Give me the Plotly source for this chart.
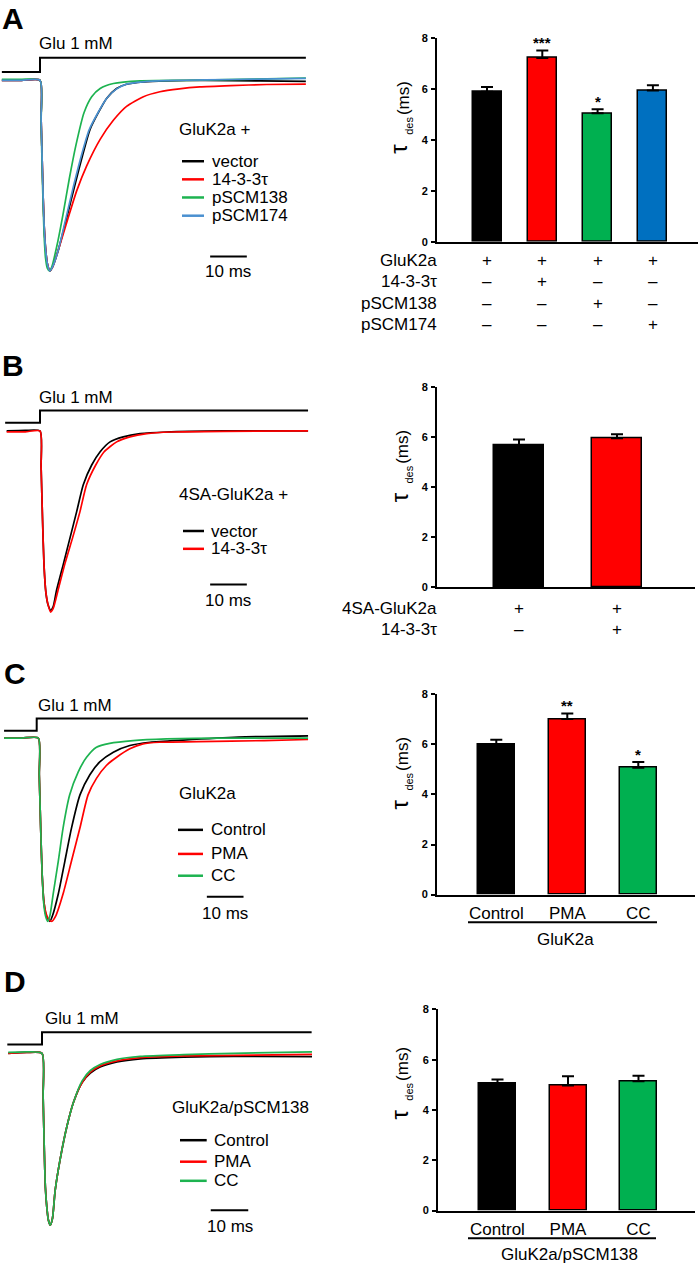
import plotly.graph_objects as go

W, H = 700, 1272
FONT = "Liberation Sans, Arial, sans-serif"

# ---------------- DATA ----------------
# Current traces: time in ms from glutamate application, current normalised to peak (-1)
A_vector_t = [-10.4, -5, 0, 0.3, 0.7, 1.1, 1.6, 2.1, 2.7, 3.4, 5.0, 7.3, 9.5, 11.8, 13.6, 15.9, 18.2, 20.9, 23.6, 28.2, 34.5, 45, 60, 72.5]
A_vector_i = [0, 0, 0, -0.2, -0.5, -0.75, -0.9, -0.97, -1.0, -0.98, -0.89, -0.72, -0.55, -0.38, -0.26, -0.17, -0.094, -0.043, -0.021, -0.009, -0.003, 0, -0.003, -0.006]
A_1433_t = [-10.4, -5, 0, 0.3, 0.7, 1.1, 1.6, 2.1, 2.7, 3.4, 5.0, 7.7, 10.0, 12.7, 16.4, 20.0, 23.6, 28.2, 32.7, 38, 43.6, 52, 61.8, 72.5]
A_1433_i = [0, 0, 0, -0.2, -0.5, -0.75, -0.9, -0.97, -1.0, -0.98, -0.89, -0.72, -0.58, -0.45, -0.31, -0.21, -0.137, -0.086, -0.06, -0.045, -0.035, -0.028, -0.022, -0.02]
A_p138_t = [-10.4, -5, 0, 0.3, 0.7, 1.1, 1.5, 2.0, 2.6, 3.2, 4.7, 6.4, 8.0, 9.8, 12.0, 14.1, 16.4, 20.0, 27.3, 40, 55, 72.5]
A_p138_i = [0.005, 0.005, 0, -0.22, -0.55, -0.8, -0.93, -0.985, -1.0, -0.98, -0.86, -0.69, -0.515, -0.34, -0.17, -0.086, -0.043, -0.017, -0.003, 0.0, 0.005, 0.012]
A_p174_t = [-10.4, -5, 0, 0.3, 0.7, 1.1, 1.6, 2.1, 2.7, 3.4, 5.0, 7.1, 9.2, 11.5, 13.4, 15.8, 18.2, 20.9, 23.6, 28.2, 34.5, 45, 60, 72.5]
A_p174_i = [0, 0, 0, -0.2, -0.5, -0.75, -0.9, -0.97, -1.0, -0.98, -0.89, -0.72, -0.55, -0.38, -0.26, -0.17, -0.094, -0.045, -0.02, -0.008, -0.002, 0.002, 0.006, 0.01]

B_vector_t = [-9.1, -4, 0, 0.3, 0.7, 1.1, 1.6, 2.2, 2.9, 3.6, 4.5, 6.4, 8.2, 10.0, 11.8, 14.1, 16.4, 19.1, 22.7, 27.3, 34.5, 50, 73.1]
B_vector_i = [0, 0.003, 0, -0.2, -0.5, -0.75, -0.9, -0.97, -1.0, -0.98, -0.89, -0.74, -0.595, -0.45, -0.30, -0.19, -0.116, -0.061, -0.033, -0.015, -0.006, 0, 0]
B_1433_t = [-9.1, -4, 0, 0.3, 0.7, 1.1, 1.6, 2.2, 2.9, 3.6, 4.9, 6.8, 8.9, 10.9, 12.7, 15.2, 17.5, 20.9, 24.5, 29.1, 36, 50, 73.1]
B_1433_i = [-0.005, -0.005, 0, -0.2, -0.5, -0.75, -0.9, -0.97, -1.01, -0.99, -0.89, -0.74, -0.595, -0.45, -0.30, -0.19, -0.116, -0.061, -0.033, -0.015, -0.006, -0.002, 0]

C_control_t = [-8.9, -4, 0.44, 0.7, 1.1, 1.5, 2.0, 2.6, 3.6, 4.3, 5.9, 7.7, 9.5, 11.8, 14.5, 17.2, 20.9, 25.4, 30.9, 39.9, 55, 74]
C_control_i = [0, 0, 0, -0.2, -0.5, -0.75, -0.9, -0.97, -1.0, -0.97, -0.85, -0.67, -0.49, -0.31, -0.20, -0.13, -0.077, -0.041, -0.023, -0.011, 0.005, 0.012]
C_pma_t = [-8.9, -4, 0.44, 0.7, 1.1, 1.5, 2.0, 2.6, 3.3, 4.1, 5.2, 7.2, 9.5, 11.8, 14.0, 16.3, 19.0, 21.8, 25.4, 29.0, 33.5, 44, 62, 74]
C_pma_i = [0, 0, 0, -0.2, -0.5, -0.75, -0.9, -0.96, -0.99, -1.0, -0.97, -0.85, -0.67, -0.49, -0.31, -0.22, -0.15, -0.105, -0.059, -0.032, -0.023, -0.02, -0.014, -0.008]
C_cc_t = [-8.9, -4, 0.44, 0.7, 1.1, 1.5, 1.9, 2.4, 3.0, 3.6, 4.5, 5.9, 7.2, 9.0, 11.3, 13.6, 16.3, 19.9, 26.3, 35.4, 50, 74]
C_cc_i = [0, 0, 0, -0.2, -0.5, -0.75, -0.9, -0.97, -1.0, -0.97, -0.85, -0.67, -0.49, -0.31, -0.186, -0.105, -0.05, -0.029, -0.014, -0.005, 0.0, 0.0]

D_t = [-9.0, -4, 0, 0.3, 0.6, 0.9, 1.3, 1.7, 2.2, 2.8, 3.5, 4.9, 6.7, 8.4, 10.7, 12.9, 15.5, 20, 26.2, 37.8, 51, 72]
D_control_i = [0, 0.005, 0, -0.25, -0.55, -0.78, -0.9, -0.97, -1.0, -0.96, -0.80, -0.61, -0.42, -0.285, -0.17, -0.115, -0.08, -0.05, -0.032, -0.022, -0.018, -0.019]
D_pma_i = [0, 0.005, 0, -0.25, -0.55, -0.78, -0.9, -0.97, -1.0, -0.96, -0.80, -0.61, -0.42, -0.285, -0.17, -0.11, -0.073, -0.044, -0.025, -0.015, -0.012, -0.006]
D_cc_i = [0.005, 0.008, 0, -0.25, -0.55, -0.78, -0.9, -0.97, -1.0, -0.96, -0.80, -0.61, -0.42, -0.285, -0.16, -0.10, -0.065, -0.035, -0.018, -0.008, 0.0, 0.008]

# Bar data: tau_des (ms), mean and SEM
A_groups = ["vector", "14-3-3τ", "pSCM138", "pSCM174"]
A_tau = [5.88, 7.20, 5.04, 5.93]
A_sem = [0.19, 0.30, 0.15, 0.21]
A_sig = ["", "***", "*", ""]
A_rows = ["GluK2a", "14-3-3τ", "pSCM138", "pSCM174"]
A_table = [["+", "+", "+", "+"], ["–", "+", "–", "–"], ["–", "–", "+", "–"], ["–", "–", "–", "+"]]

B_groups = ["vector", "14-3-3τ"]
B_tau = [5.70, 5.97]
B_sem = [0.22, 0.16]
B_rows = ["4SA-GluK2a", "14-3-3τ"]
B_table = [["+", "+"], ["–", "+"]]

C_groups = ["Control", "PMA", "CC"]
C_tau = [6.02, 7.02, 5.07]
C_sem = [0.17, 0.22, 0.23]
C_sig = ["", "**", "*"]

D_groups = ["Control", "PMA", "CC"]
D_tau = [5.04, 4.97, 5.14]
D_sem = [0.17, 0.37, 0.22]
D_sig = ["", "", ""]

Y_TICKS = [0, 2, 4, 6, 8]
SCALE_MS = 10

# ---------------- STYLE / LAYOUT ----------------
BLACK, RED, GREEN, BLUE = "#000000", "#ff0000", "#00b050", "#0070c0"
TGREEN, TBLUE = "#1db350", "#4a90d0"


def fx(p):
    return p / W


def fy(p):
    return 1 - p / H


fig = go.Figure()
annotations = []
shapes = []


def ann(text, x, y, size=17, xanchor="left", yanchor="middle", xref="paper", yref="paper", bold=False, **kw):
    annotations.append(dict(text=text, x=x, y=y, xref=xref, yref=yref, xanchor=xanchor, yanchor=yanchor,
                            showarrow=False, font=dict(family=FONT, size=size, color="black",
                                                       weight="bold" if bold else "normal"), **kw))


def trace_panel(idx, cfg, series, header, letter):
    xa = "xaxis" if idx == 1 else f"xaxis{idx}"
    ya = "yaxis" if idx == 1 else f"yaxis{idx}"
    xr = "x" if idx == 1 else f"x{idx}"
    yr = "y" if idx == 1 else f"y{idx}"
    onset, ppm, base, peak = cfg["onset"], cfg["ppm"], cfg["base"], cfg["peak"]
    top, bot = cfg["dom"]
    amp = peak - base
    fig.layout[xa] = dict(domain=[0, 320 / W], range=[(0 - onset) / ppm, (320 - onset) / ppm], visible=False,
                          anchor=yr)
    fig.layout[ya] = dict(domain=[fy(bot), fy(top)], range=[(base - bot) / amp, (base - top) / amp], visible=False,
                          anchor=xr)
    for name, t, i, col in series:
        fig.add_trace(go.Scatter(x=t, y=i, mode="lines", line=dict(color=col, width=1.7, shape="spline", smoothing=0.6),
                                 xaxis=xr, yaxis=yr, showlegend=False, name=name, hoverinfo="skip"))
    g0, g1 = cfg["glu_t"]
    lo, hi = cfg["glu_y"]
    shapes.append(dict(type="path", xref=xr, yref="paper",
                       path=f"M {g0},{fy(lo)} L 0,{fy(lo)} L 0,{fy(hi)} L {g1},{fy(hi)}",
                       line=dict(color="black", width=2)))
    ann("Glu 1 mM", fx(cfg["glu_text"][0]), fy(cfg["glu_text"][1]))
    ann(header, fx(cfg["head"][0]), fy(cfg["head"][1]))
    lx0, lx1, ltx = cfg["leg_x"]
    for (name, t, i, col), yy in zip(series, cfg["leg_y"]):
        shapes.append(dict(type="line", xref="paper", yref="paper", x0=fx(lx0), x1=fx(lx1), y0=fy(yy), y1=fy(yy),
                           line=dict(color=col, width=2.5)))
        ann(name, fx(ltx), fy(yy))
    s0 = cfg["scale"][0]
    shapes.append(dict(type="line", xref=xr, yref="paper", x0=s0, x1=s0 + SCALE_MS, y0=fy(cfg["scale"][1]),
                       y1=fy(cfg["scale"][1]), line=dict(color="black", width=2)))
    ann(f"{SCALE_MS} ms", s0 + SCALE_MS / 2, fy(cfg["scale"][2]), xref=xr, xanchor="center")
    ann(letter, fx(cfg["letter"][0]), fy(cfg["letter"][1]), size=30, bold=True)


def bar_panel(idx, cfg, groups, tau, sem, colors, sig, ticklabels):
    xa, ya = f"xaxis{idx}", f"yaxis{idx}"
    xr, yr = f"x{idx}", f"y{idx}"
    ax, right, top, bot, c0, sp, bw = cfg["geom"]
    fig.layout[xa] = dict(domain=[fx(ax), fx(right)], range=[(ax - c0) / sp, (right - c0) / sp],
                          showline=True, linecolor="black", linewidth=2, ticks="", showgrid=False, zeroline=False,
                          showticklabels=ticklabels, tickfont=dict(family=FONT, size=17, color="black"),
                          anchor=yr, type="category", fixedrange=True, ticklabelstandoff=2)
    fig.layout[ya] = dict(domain=[fy(bot), fy(top)], range=[0, 8], tickvals=Y_TICKS, showline=True, linecolor="black",
                          linewidth=2, ticks="outside", ticklen=4, tickwidth=2, tickcolor="black", showgrid=False,
                          zeroline=False, tickfont=dict(family=FONT, size=11, color="black", weight="bold"),
                          anchor=xr, ticklabelstandoff=1)
    fig.add_trace(go.Bar(x=groups, y=tau, width=bw / sp, marker=dict(color=colors, line=dict(color="black", width=1.5)),
                         error_y=dict(type="data", array=sem, arrayminus=[0] * len(sem), symmetric=False,
                                      color="black", thickness=2, width=6),
                         xaxis=xr, yaxis=yr, showlegend=False, hoverinfo="skip"))
    for k, s in enumerate(sig):
        if s:
            ann(s, k, tau[k] + sem[k], size=15, bold=True, xref=xr, yref=yr, xanchor="center", yanchor="bottom",
                yshift=-3)
    yc = cfg["ylab"]
    ann("τ", fx(399), fy(yc + 30), size=24, xanchor="center", textangle=-90)
    ann("des", fx(409), fy(yc + 7), size=11, xanchor="center", textangle=-90)
    ann("(ms)", fx(403), fy(yc - 21), size=17, xanchor="center", textangle=-90)
    return xr


# ---- trace panels ----
A_cfg = dict(onset=40, ppm=3.667, base=75, peak=267.5, dom=(40, 285), glu_t=(-10.4, 72.5), glu_y=(66.7, 52.3),
             glu_text=(37, 38), head=(177, 125), leg_x=(182, 204, 210), leg_y=[156.7, 175, 193.3, 211.7],
             scale=(46.4, 253, 268), letter=(0, 13))
trace_panel(1, A_cfg, [("vector", A_vector_t, A_vector_i, BLACK), ("14-3-3τ", A_1433_t, A_1433_i, RED),
                       ("pSCM138", A_p138_t, A_p138_i, TGREEN), ("pSCM174", A_p174_t, A_p174_i, TBLUE)],
            "GluK2a +", "A")

B_cfg = dict(onset=40, ppm=3.667, base=429, peak=610, dom=(380, 625), glu_t=(-9.5, 73.1), glu_y=(420.7, 408.3),
             glu_text=(37, 395), head=(177, 493), leg_x=(183, 204, 209), leg_y=[530, 548],
             scale=(46.4, 584, 600), letter=(0, 363))
trace_panel(3, B_cfg, [("vector", B_vector_t, B_vector_i, BLACK), ("14-3-3τ", B_1433_t, B_1433_i, RED)],
            "4SA-GluK2a +", "B")

C_cfg = dict(onset=36.7, ppm=3.667, base=739, peak=924, dom=(690, 935), glu_t=(-8.9, 74), glu_y=(731.7, 719.3),
             glu_text=(36, 706), head=(177, 795), leg_x=(178, 203, 209), leg_y=[831.7, 856, 878],
             scale=(46.4, 899.3, 916), letter=(2, 674))
trace_panel(5, C_cfg, [("Control", C_control_t, C_control_i, BLACK), ("PMA", C_pma_t, C_pma_i, RED),
                       ("CC", C_cc_t, C_cc_i, TGREEN)], "GluK2a", "C")

D_cfg = dict(onset=42, ppm=3.75, base=1057.3, peak=1230.7, dom=(1000, 1250), glu_t=(-9.25, 71.9),
             glu_y=(1048.3, 1036), glu_text=(43, 1022), head=(170, 1112), leg_x=(180, 206.7, 211.7),
             leg_y=[1145, 1166.7, 1186], scale=(45, 1215.7, 1231.7), letter=(2, 985))
trace_panel(7, D_cfg, [("Control", D_t, D_control_i, BLACK), ("PMA", D_t, D_pma_i, RED),
                       ("CC", D_t, D_cc_i, TGREEN)], "GluK2a/pSCM138", "D")

# ---- bar panels ----
xrA = bar_panel(2, dict(geom=(437, 698, 32, 238, 487, 55.3, 29), ylab=114), A_groups, A_tau, A_sem,
                [BLACK, RED, GREEN, BLUE], A_sig, False)
for r, (row, yy) in enumerate(zip(A_rows, [257.3, 278.5, 300, 321.7])):
    ann(row, fx(439), fy(yy), xanchor="right")
    for k, s in enumerate(A_table[r]):
        ann(s, k, fy(yy), xref=xrA, xanchor="center")

xrB = bar_panel(4, dict(geom=(437, 695, 385, 587, 519, 98, 50), ylab=466), B_groups, B_tau, B_sem,
                [BLACK, RED], ["", ""], False)
for r, (row, yy) in enumerate(zip(B_rows, [608, 629])):
    ann(row, fx(439), fy(yy), xanchor="right")
    for k, s in enumerate(B_table[r]):
        ann(s, k, fy(yy), xref=xrB, xanchor="center")

bar_panel(6, dict(geom=(437, 695, 695, 897, 496.3, 71, 37), ylab=776), C_groups, C_tau, C_sem,
          [BLACK, RED, GREEN], C_sig, True)
shapes.append(dict(type="line", xref="paper", yref="paper", x0=fx(468), x1=fx(657), y0=fy(925), y1=fy(925),
                   line=dict(color="black", width=2)))
ann("GluK2a", fx(565), fy(942), xanchor="center")

bar_panel(8, dict(geom=(438, 695, 1013, 1216, 497.5, 70.5, 37), ylab=1089), D_groups, D_tau, D_sem,
          [BLACK, RED, GREEN], D_sig, True)
shapes.append(dict(type="line", xref="paper", yref="paper", x0=fx(468), x1=fx(656), y0=fy(1244), y1=fy(1244),
                   line=dict(color="black", width=2)))
ann("GluK2a/pSCM138", fx(569), fy(1260), xanchor="center")

fig.update_layout(width=W, height=H, margin=dict(l=0, r=0, t=0, b=0), paper_bgcolor="white", plot_bgcolor="white",
                  annotations=annotations, shapes=shapes, font=dict(family=FONT, color="black"), bargap=0)
fig.write_html("out.html", config={"displayModeBar": False},
               post_script="document.body.style.margin='0';document.body.style.padding='0';")
